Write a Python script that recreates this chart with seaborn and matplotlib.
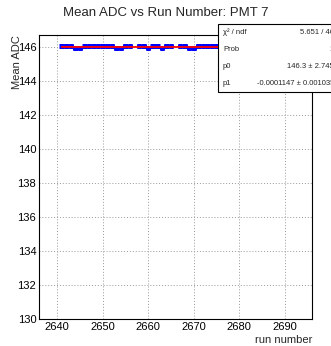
import numpy as np
import pandas as pd
import matplotlib
matplotlib.use("Agg")
import matplotlib.pyplot as plt
import seaborn as sns
from matplotlib.ticker import MultipleLocator

runs = [2641, 2642, 2643, 2644, 2645, 2646, 2647, 2648, 2649, 2650, 2651, 2652,
        2653, 2654, 2655, 2656, 2658, 2659, 2660, 2661, 2662, 2663, 2664, 2665,
        2667, 2668, 2669, 2670, 2671, 2672, 2673, 2674, 2675, 2676, 2677, 2678,
        2679, 2680, 2681, 2682, 2683, 2684, 2685, 2686, 2687, 2688, 2689, 2690]
mean_adc = [146.05, 146.05, 146.05, 145.93, 145.93, 146.06, 146.06, 146.05, 146.06,
            146.06, 146.05, 146.05, 145.93, 145.92, 146.05, 146.06, 146.05, 146.04,
            145.94, 146.05, 146.06, 145.93, 146.05, 146.06, 146.05, 146.04, 145.92,
            145.95, 146.05, 146.06, 146.05, 146.06, 146.05, 146.0, 146.0, 146.0,
            146.0, 146.0, 146.0, 146.0, 146.0, 146.0, 146.0, 146.0, 146.0, 146.0,
            146.0, 146.0]
y_err = 0.12
x_err = 0.5
p0, p1 = 146.3, -0.0001147
stat_labels = ["\u03c7\u00b2 / ndf", "Prob", "p0", "p1"]
stat_values = ["5.651 / 46", "1", "146.3 \u00b1 2.745", "-0.0001147 \u00b1 0.001035"]

sns.set_theme(style="white")
plt.rcParams['font.family'] = ['Liberation Sans', 'DejaVu Sans']

W, H = 331, 346
fig = plt.figure(figsize=(W / 100, H / 100), dpi=100)
L, R, T, B = 39, 312, 35, 319
ax = fig.add_axes([L / W, 1 - B / H, (R - L) / W, (B - T) / H])

ax.errorbar(runs, mean_adc, xerr=x_err, yerr=y_err, fmt='none',
            ecolor=(0, 0, 1), elinewidth=3.6, capsize=0, zorder=3)

fit = pd.DataFrame({"run": [runs[0], runs[-1]]})
fit["val"] = p0 + p1 * fit["run"]
sns.lineplot(data=fit, x="run", y="val", color=(1, 0, 0), linewidth=1.3, ax=ax, zorder=4)

ax.set_xlim(2636, 2696)
ax.set_ylim(130, 146.7)
ax.xaxis.set_major_locator(MultipleLocator(10))
ax.xaxis.set_minor_locator(MultipleLocator(2))
ax.yaxis.set_major_locator(MultipleLocator(2))
ax.yaxis.set_minor_locator(MultipleLocator(0.5))
ax.tick_params(axis='both', which='both', direction='in', top=False, right=False,
               labelsize=8, colors='black', width=0.8, pad=2)
ax.tick_params(which='major', length=8)
ax.tick_params(which='minor', length=4)
ax.grid(True, which='major', linestyle=(0, (1, 2)), color='#999999', linewidth=0.7)
for s in ax.spines.values():
    s.set_color('black')
    s.set_linewidth(0.8)
ax.set_xlabel("")
ax.set_ylabel("")

fig.text(0.5, 1 - 13 / H, "Mean ADC vs Run Number: PMT 7", ha='center', va='center', fontsize=9.5)
fig.text(R / W, 1 - 340 / H, "run number", ha='right', va='center', fontsize=8)
fig.text(17 / W, 1 - T / H, "Mean ADC", ha='center', va='top', rotation=90, fontsize=8)

# stats box
bx0, by0, by1 = 218, 24, 92
rect = plt.Rectangle((bx0 / W, 1 - by1 / H), (W + 20 - bx0) / W, (by1 - by0) / H,
                     transform=fig.transFigure, facecolor='white', edgecolor='black',
                     linewidth=0.8, zorder=10)
fig.add_artist(rect)
rows_y = [32.5, 49.5, 66.5, 83.5]
for lab, val, yy in zip(stat_labels, stat_values, rows_y):
    fig.text(223 / W, 1 - yy / H, lab, ha='left', va='center', fontsize=5.5, zorder=11)
    fig.text(334 / W, 1 - yy / H, val, ha='right', va='center', fontsize=5.5, zorder=11)

fig.savefig("out.png", dpi=100)
